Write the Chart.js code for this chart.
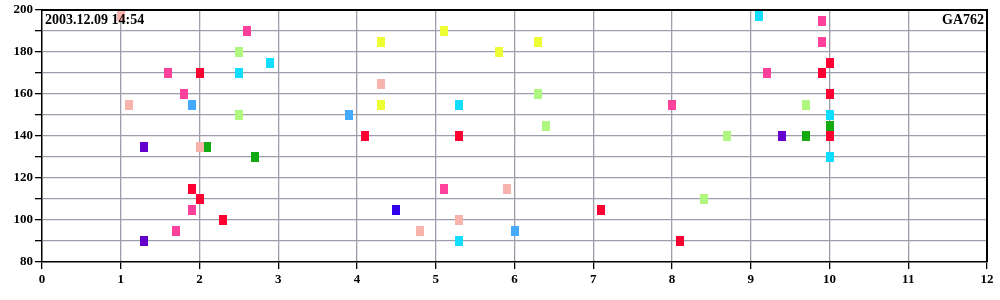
<!DOCTYPE html>
<html>
<head>
<meta charset="utf-8">
<script src="https://cdn.jsdelivr.net/npm/chart.js@4/dist/chart.umd.min.js"></script>
<style>
  html, body { margin: 0; padding: 0; background: #fff; }
  #wrap { width: 1000px; height: 300px; }
</style>
</head>
<body>
<div id="wrap"><canvas id="chart" width="1000" height="300"></canvas></div>
<script>
const stamp = '2003.12.09 14:54'
const flight = 'GA762'

// x, y per colour group
const salmonX = [1.0, 1.1, 2.0, 4.3, 4.8, 5.3, 5.9]
const salmonY = [197, 155, 135, 165, 95, 100, 115]
const pinkX = [1.6, 1.7, 1.8, 1.9, 2.6, 5.1, 8.0, 9.2, 9.9, 9.9]
const pinkY = [170, 95, 160, 105, 190, 115, 155, 170, 195, 185]
const redX = [1.9, 2.0, 2.0, 2.3, 4.1, 5.3, 7.1, 8.1, 9.9, 10.0, 10.0, 10.0]
const redY = [115, 170, 110, 100, 140, 140, 105, 90, 170, 175, 160, 140]
const blueX = [1.9, 3.9, 6.0]
const blueY = [155, 150, 95]
const limeX = [2.5, 2.5, 6.3, 6.4, 8.4, 8.7, 9.7]
const limeY = [180, 150, 160, 145, 110, 140, 155]
const cyanX = [2.5, 2.9, 5.3, 5.3, 9.1, 10.0, 10.0]
const cyanY = [170, 175, 155, 90, 197, 150, 130]
const purpleX = [1.3, 1.3, 9.4]
const purpleY = [135, 90, 140]
const greenX = [2.1, 2.7, 9.7, 10.0]
const greenY = [135, 130, 140, 145]
const yellowX = [4.3, 4.3, 5.1, 5.8, 6.3]
const yellowY = [185, 155, 190, 180, 185]
const violetX = [4.5]
const violetY = [105]

const xTicks = [0, 1, 2, 3, 4, 5, 6, 7, 8, 9, 10, 11, 12]

// helpers
function box(color) {
  const c = document.createElement('canvas')
  c.width = 8
  c.height = 10
  const g = c.getContext('2d')
  g.fillStyle = color
  g.fillRect(0, 0, 8, 10)
  return c
}

function series(xs, ys, color) {
  return {
    data: xs.map((x, i) => ({ x, y: ys[i] })),
    pointStyle: box(color),
    backgroundColor: color,
    borderColor: color,
    showLine: false,
    clip: false
  }
}

const labels = {
  id: 'labels',
  afterDraw(chart) {
    const { ctx, chartArea } = chart
    ctx.save()
    ctx.fillStyle = '#000'
    ctx.font = 'bold 14px "Liberation Serif"'
    ctx.textBaseline = 'middle'
    ctx.textAlign = 'left'
    ctx.fillText(stamp, chartArea.left + 3, chartArea.top + 10)
    ctx.textAlign = 'right'
    ctx.fillText(flight, chartArea.right - 3, chartArea.top + 10)
    ctx.restore()
  }
}

const tickFont = { family: '"Liberation Serif"', size: 13, weight: 'bold' }

const scales = {
  x: {
    type: 'linear',
    min: 0,
    max: 12,
    afterBuildTicks: (s) => { s.ticks = xTicks.map((v) => ({ value: v })) },
    afterFit: (s) => { s.height = 38 },
    ticks: { color: '#000', font: tickFont, padding: 3, maxRotation: 0 },
    grid: {
      color: (c) => (c.tick.value === 0 || c.tick.value === 12) ? 'rgba(0,0,0,0)' : '#9c9eac',
      tickColor: '#000',
      tickLength: 7,
      lineWidth: 1.3
    },
    border: { color: '#000', width: 1.5 }
  },
  y: {
    min: 80,
    max: 200,
    afterFit: (s) => { s.width = 42 },
    ticks: {
      stepSize: 10,
      color: '#000',
      font: tickFont,
      padding: 2,
      callback: (v) => v % 20 === 0 ? v : ''
    },
    grid: {
      color: (c) => (c.tick.value === 80) ? 'rgba(0,0,0,0)' : '#9c9eac',
      tickColor: '#000',
      tickLength: 7,
      lineWidth: 1.3
    },
    border: { color: '#000', width: 1.5 }
  }
}

const frame = {
  id: 'frame',
  afterDraw(chart) {
    const { ctx, chartArea } = chart
    ctx.save()
    ctx.strokeStyle = '#000'
    ctx.lineWidth = 2
    ctx.beginPath()
    ctx.moveTo(chartArea.left, chartArea.top)
    ctx.lineTo(chartArea.right, chartArea.top)
    ctx.lineTo(chartArea.right, chartArea.bottom)
    ctx.stroke()
    ctx.restore()
  }
}

// setup
new Chart(document.getElementById('chart'), {
  type: 'scatter',
  data: {
    datasets: [
      series(salmonX, salmonY, '#f8b4ac'),
      series(pinkX, pinkY, '#ff419b'),
      series(redX, redY, '#ff0033'),
      series(blueX, blueY, '#44aaff'),
      series(limeX, limeY, '#aff77f'),
      series(cyanX, cyanY, '#11ddff'),
      series(purpleX, purpleY, '#6600cc'),
      series(greenX, greenY, '#11aa11'),
      series(yellowX, yellowY, '#eeff33'),
      series(violetX, violetY, '#3300ee')
    ]
  },
  options: {
    responsive: false,
    animation: false,
    layout: { padding: { top: 10, right: 13, left: 0, bottom: 0 } },
    scales,
    plugins: {
      legend: { display: false },
      tooltip: { enabled: false }
    }
  },
  plugins: [frame, labels]
})
</script>
</body>
</html>
